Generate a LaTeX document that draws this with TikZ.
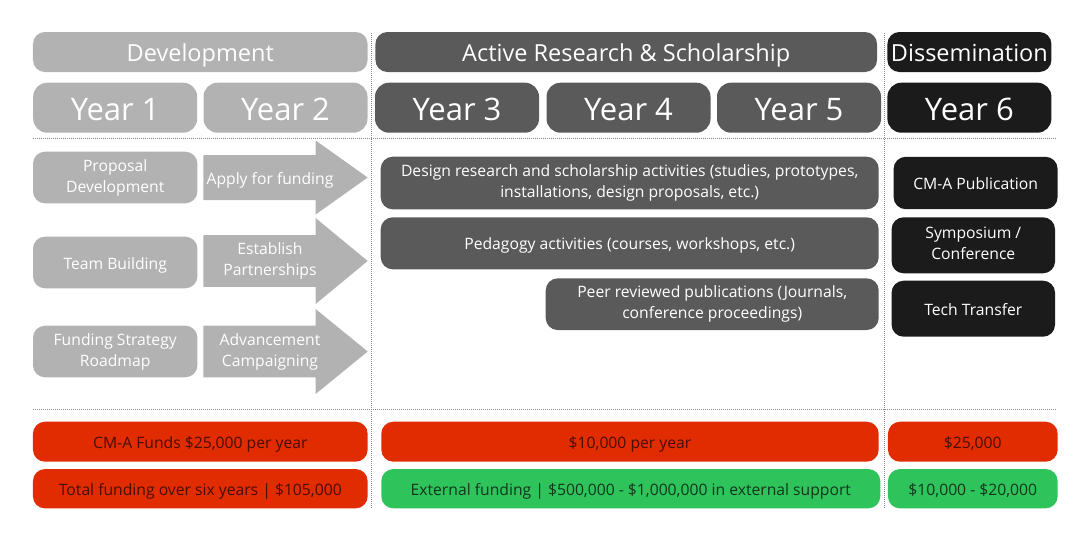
\documentclass[tikz,border=0pt]{standalone}
\usepackage{fontspec}
\setmainfont{Open Sans}
\usetikzlibrary{positioning}
\definecolor{devgray}{HTML}{B2B2B2}
\definecolor{resgray}{HTML}{5A5A5A}
\definecolor{disblack}{HTML}{1B1B1B}
\definecolor{fundred}{HTML}{E12B00}
\definecolor{fundgreen}{HTML}{2EC35B}
\definecolor{redtext}{HTML}{4A0E00}
\definecolor{greentext}{HTML}{12361D}
\definecolor{divline}{HTML}{8A8A8A}
\newcommand\boxstrut{\rule[-0.25em]{0pt}{1.35em}}

\begin{document}
\begin{tikzpicture}[x=1pt, y=-1pt,
   box/.style={rounded corners=12pt, inner sep=0pt, align=center, text=white,
      font=\fontsize{15.7}{21}\selectfont,
      execute at begin node=\boxstrut, execute at end node=\boxstrut},
   header/.style={box, minimum height=40pt, font=\fontsize{23.5}{28}\selectfont},
   year/.style={box, rounded corners=14pt, minimum width=164pt, minimum height=50pt,
      font=\fontsize{31}{36}\selectfont},
   fund/.style={box, minimum height=40pt},
   divider/.style={divline, line width=0.8pt, dash pattern=on 1pt off 1pt}]
\useasboundingbox (0,0) rectangle (1090,541);

% phase headers
\node [header, fill=devgray, minimum width=334.7pt] (dev) at (200.3,52) {Development};
\node [header, fill=resgray, minimum width=501.6pt] (res) at (626.2,52) {Active Research \& Scholarship};
\node [header, fill=disblack, minimum width=164pt] (dis) at (969.4,52) {Dissemination};

% years
\foreach \n/\x/\c in {1/115.2/devgray, 2/285.5/devgray, 3/457/resgray,
                      4/628.5/resgray, 5/799/resgray, 6/969.4/disblack}
   \node [year, fill=\c] (y\n) at (\x,107.7) {Year \n};

% dividers
\coordinate (hl1) at (33,138.3);   \coordinate (hr1) at (1056,138.3);
\coordinate (hl2) at (33,409.3);   \coordinate (hr2) at (1056,409.3);
\coordinate (vt1) at (371.2,33);   \coordinate (vb1) at (371.2,508.5);
\coordinate (vt2) at (884,33);     \coordinate (vb2) at (884,508.5);
\draw [divider] (hl1) -- (hr1);
\draw [divider] (hl2) -- (hr2);
\draw [divider] (vt1) -- (vb1);
\draw [divider] (vt2) -- (vb2);

% development
\begin{scope}[every node/.style={box, fill=devgray, minimum width=164.4pt, minimum height=51.6pt}]
\node (prop) at (115.2,177.5) {Proposal\\Development};
\node (team) at (115.2,262.5) {Team Building};
\node (road) at (115.2,351.5) {Funding Strategy\\Roadmap};
\end{scope}

\foreach \y/\b/\h in {177.5/22.5/37, 261/25.8/43, 351.5/25.8/42.5}
   \fill [devgray] (203.3,\y-\b) -- (315.6,\y-\b) -- (315.6,\y-\h) -- (367.7,\y)
      -- (315.6,\y+\h) -- (315.6,\y+\b) -- (203.3,\y+\b) -- cycle;

\begin{scope}[every node/.style={box, rounded corners=0pt}]
\node (apply) at (270,177.5) {Apply for funding};
\node (part)  at (270,261)   {Establish\\Partnerships};
\node (adv)   at (270,351.5) {Advancement\\Campaigning};
\end{scope}

% research
\node [box, fill=resgray, minimum width=498pt, minimum height=52.6pt] (design) at (629.7,183)
   {Design research and scholarship activities (studies, prototypes,\\installations, design proposals, etc.)};
\node [box, fill=resgray, minimum width=498pt, minimum height=52pt] (peda) at (629.7,243.3)
   {Pedagogy activities (courses, workshops, etc.)};
\node [box, fill=resgray, minimum width=333pt, minimum height=51.7pt] (peer) at (712.2,304.2)
   {Peer reviewed publications (Journals,\\conference proceedings)};

% dissemination
\node [box, fill=disblack, minimum width=164pt, minimum height=52.3pt] (cma) at (975.6,183) {CM-A Publication};
\node [box, fill=disblack, minimum width=163.5pt, minimum height=56pt] (symp) at (973.3,245.3) {Symposium /\\Conference};
\node [box, fill=disblack, minimum width=163.5pt, minimum height=56pt] (tech) at (973.3,308.7) {Tech Transfer};

% funding
\node [fund, fill=fundred, text=redtext, minimum width=334.7pt] (cmafund) at (200.3,441.7) {CM-A Funds \$25,000 per year};
\node [fund, fill=fundred, text=redtext, minimum width=497.4pt] (resfund) at (630,441.7) {\$10,000 per year};
\node [fund, fill=fundred, text=redtext, minimum width=169.7pt] (disfund) at (972.8,441.7) {\$25,000};
\node [fund, fill=fundred, text=redtext, minimum width=334.7pt, minimum height=39.3pt] (total) at (200.3,488.7)
   {Total funding over six years | \$105,000};
\node [fund, fill=fundgreen, text=greentext, minimum width=499pt, minimum height=39.3pt] (ext) at (630.8,488.7)
   {External funding | \$500,000 - \$1,000,000 in external support};
\node [fund, fill=fundgreen, text=greentext, minimum width=169.7pt, minimum height=39.3pt] (disext) at (972.8,488.7)
   {\$10,000 - \$20,000};
\end{tikzpicture}
\end{document}
